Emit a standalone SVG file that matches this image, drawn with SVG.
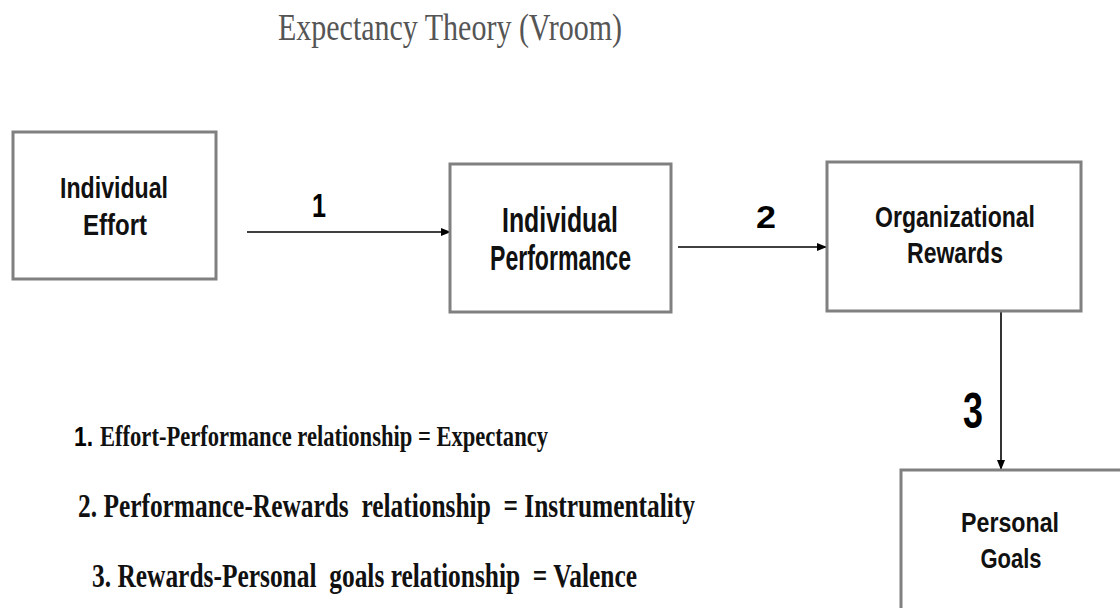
<svg xmlns="http://www.w3.org/2000/svg" width="1120" height="608" viewBox="0 0 1120 608">
<defs>
<style>
.box{fill:#fff;stroke:#808080;stroke-width:3}
.lbl{font-family:"Liberation Sans",Arial,sans-serif;font-weight:bold;fill:#111;text-anchor:middle}
.num{font-family:"Liberation Sans",Arial,sans-serif;font-weight:bold;fill:#000}
.leg{font-family:"Liberation Serif","Times New Roman",serif;font-weight:bold;fill:#111}
.conn{stroke:#000;stroke-width:1.6;fill:none}
</style>
<marker id="ah" markerWidth="10" markerHeight="8" refX="9" refY="4" orient="auto" markerUnits="userSpaceOnUse">
<path d="M0,0 L10,4 L0,8 Z" fill="#000"/>
</marker>
</defs>
<rect width="1120" height="608" fill="#fff"/>
<text x="278" y="40" font-family="'Liberation Serif','Times New Roman',serif" font-size="37" fill="#555" textLength="344" lengthAdjust="spacingAndGlyphs">Expectancy Theory (Vroom)</text>

<g id="connectors">
<line class="conn" x1="247" y1="232" x2="450" y2="232" marker-end="url(#ah)"/>
<line class="conn" x1="678" y1="247" x2="826" y2="247" marker-end="url(#ah)"/>
<line class="conn" x1="1001" y1="312" x2="1001" y2="469" marker-end="url(#ah)"/>
<text class="num" x="312" y="217" font-size="33" textLength="14" lengthAdjust="spacingAndGlyphs">1</text>
<text class="num" x="756" y="228" font-size="32" textLength="20" lengthAdjust="spacingAndGlyphs">2</text>
<text class="num" x="963" y="428" font-size="50" textLength="20" lengthAdjust="spacingAndGlyphs">3</text>
</g>

<g id="individual-effort">
<rect class="box" x="13" y="132" width="203" height="147"/>
<text class="lbl" x="114" y="198" font-size="30" textLength="108" lengthAdjust="spacingAndGlyphs">Individual</text>
<text class="lbl" x="115" y="235" font-size="30" textLength="64" lengthAdjust="spacingAndGlyphs">Effort</text>
</g>

<g id="individual-performance">
<rect class="box" x="450" y="164" width="221" height="148"/>
<text class="lbl" x="560" y="232" font-size="35" textLength="116" lengthAdjust="spacingAndGlyphs">Individual</text>
<text class="lbl" x="560.5" y="270" font-size="35" textLength="141" lengthAdjust="spacingAndGlyphs">Performance</text>
</g>

<g id="organizational-rewards">
<rect class="box" x="827" y="162" width="254" height="149"/>
<text class="lbl" x="955" y="227" font-size="29" textLength="160" lengthAdjust="spacingAndGlyphs">Organizational</text>
<text class="lbl" x="955" y="263" font-size="29" textLength="96" lengthAdjust="spacingAndGlyphs">Rewards</text>
</g>

<g id="personal-goals">
<rect class="box" x="901" y="470" width="260" height="200"/>
<text class="lbl" x="1010" y="532" font-size="28" textLength="98" lengthAdjust="spacingAndGlyphs">Personal</text>
<text class="lbl" x="1011" y="568" font-size="28" textLength="61" lengthAdjust="spacingAndGlyphs">Goals</text>
</g>

<g id="legend">
<text class="num" x="74" y="446" font-size="28" textLength="19" lengthAdjust="spacingAndGlyphs">1.</text>
<text class="leg" x="100" y="446" font-size="30" textLength="448" lengthAdjust="spacingAndGlyphs">Effort-Performance relationship = Expectancy</text>
<text class="leg" x="78" y="517" font-size="33" textLength="617" lengthAdjust="spacingAndGlyphs" xml:space="preserve">2. Performance-Rewards  relationship  = Instrumentality</text>
<text class="leg" x="92" y="587" font-size="33" textLength="545" lengthAdjust="spacingAndGlyphs" xml:space="preserve">3. Rewards-Personal  goals relationship  = Valence</text>
</g>
</svg>
